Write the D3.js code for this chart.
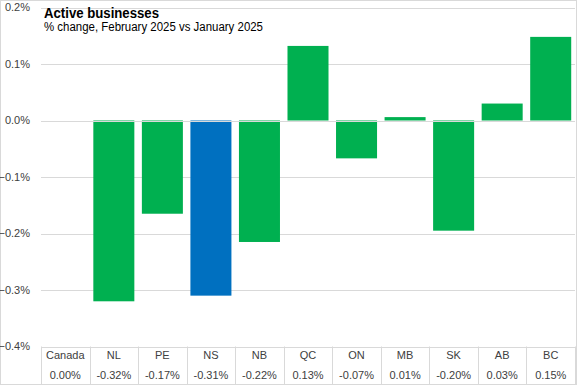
<!DOCTYPE html>
<html><head><meta charset="utf-8">
<script src="https://cdn.jsdelivr.net/npm/d3@7"></script>
<style>body{margin:0;background:#fff}svg{display:block}text{font-family:"Liberation Sans",Arial,sans-serif}</style>
</head><body><svg id="c" width="577" height="385"></svg>
<script>
const categories = ["Canada","NL","PE","NS","NB","QC","ON","MB","SK","AB","BC"];
const values = [0.0, -0.32, -0.165, -0.31, -0.215, 0.132, -0.067, 0.006, -0.195, 0.03, 0.148];
const valueLabels = ["0.00%","-0.32%","-0.17%","-0.31%","-0.22%","0.13%","-0.07%","0.01%","-0.20%","0.03%","0.15%"];
const highlight = ["NS"];
const yTicks = [0.2, 0.1, 0.0, -0.1, -0.2, -0.3, -0.4];
const title = "Active businesses";
const subtitle = "% change, February 2025 vs January 2025";

(function(){
const svg = d3.select("#c");
const W = 577, H = 385;
const mLeft = 41, mRight = 575, mTop = 7.5, mBottom = 346.5;
const x = d3.scaleBand().domain(categories).range([mLeft, mRight]).paddingInner(0.155).paddingOuter(0.078);
const xCell = d3.scaleBand().domain(categories).range([mLeft, mRight]).padding(0);
const y = d3.scaleLinear().domain([-0.4, 0.2]).range([mBottom, mTop]);

svg.append("rect").attr("x",0.5).attr("y",0.5).attr("width",W-1).attr("height",H-1)
  .attr("fill","none").attr("stroke","#d9d9d9");

svg.append("g").selectAll("line").data(yTicks).join("line")
  .attr("x1", mLeft).attr("x2", mRight)
  .attr("y1", d => Math.round(y(d))+0.5).attr("y2", d => Math.round(y(d))+0.5)
  .attr("stroke", "#d9d9d9").attr("stroke-width", 1);

svg.append("g").selectAll("text").data(yTicks).join("text")
  .attr("x", 30).attr("y", d => y(d)).attr("dy","0.35em")
  .attr("text-anchor","end").attr("font-size", 11).attr("fill","#404040")
  .text(d => d3.format(".1f")(d) + "%");

svg.append("g").selectAll("rect").data(categories).join("rect")
  .attr("x", d => x(d)).attr("width", x.bandwidth())
  .attr("y", (d,i) => y(Math.max(0, values[i])))
  .attr("height", (d,i) => Math.abs(y(values[i]) - y(0)))
  .attr("fill", d => highlight.includes(d) ? "#0070c0" : "#00b050");

svg.append("line").attr("x1",mLeft).attr("x2",mRight)
  .attr("y1", Math.round(y(0))+0.5).attr("y2", Math.round(y(0))+0.5)
  .attr("stroke","#d9d9d9");

const tb = svg.append("g");
const tableBottom = 384.5;
const dividers = categories.map(c => xCell(c)).concat([mRight]);
tb.selectAll("line.v").data(dividers).join("line").attr("class","v")
  .attr("x1", d => Math.round(d)+0.5).attr("x2", d => Math.round(d)+0.5)
  .attr("y1", mBottom).attr("y2", tableBottom)
  .attr("stroke","#d9d9d9");
tb.append("line").attr("x1",mLeft).attr("x2",mRight).attr("y1",tableBottom).attr("y2",tableBottom).attr("stroke","#d9d9d9");
tb.selectAll("text.c").data(categories).join("text").attr("class","c")
  .attr("x", d => xCell(d) + xCell.bandwidth()/2).attr("y", 355.5).attr("dy","0.35em")
  .attr("text-anchor","middle").attr("font-size",11).attr("fill","#404040").text(d => d);
tb.selectAll("text.v").data(categories).join("text").attr("class","v")
  .attr("x", d => xCell(d) + xCell.bandwidth()/2).attr("y", 375.5).attr("dy","0.35em")
  .attr("text-anchor","middle").attr("font-size",11).attr("fill","#404040").text((d,i) => valueLabels[i]);

svg.append("text").attr("x",44).attr("y",18).attr("font-size",14).attr("font-weight","bold")
  .attr("fill","#000").attr("textLength",115).attr("lengthAdjust","spacingAndGlyphs").text(title);
svg.append("text").attr("x",44).attr("y",31).attr("font-size",12).attr("fill","#000")
  .attr("textLength",219).attr("lengthAdjust","spacingAndGlyphs").text(subtitle);
})();
</script></body></html>
